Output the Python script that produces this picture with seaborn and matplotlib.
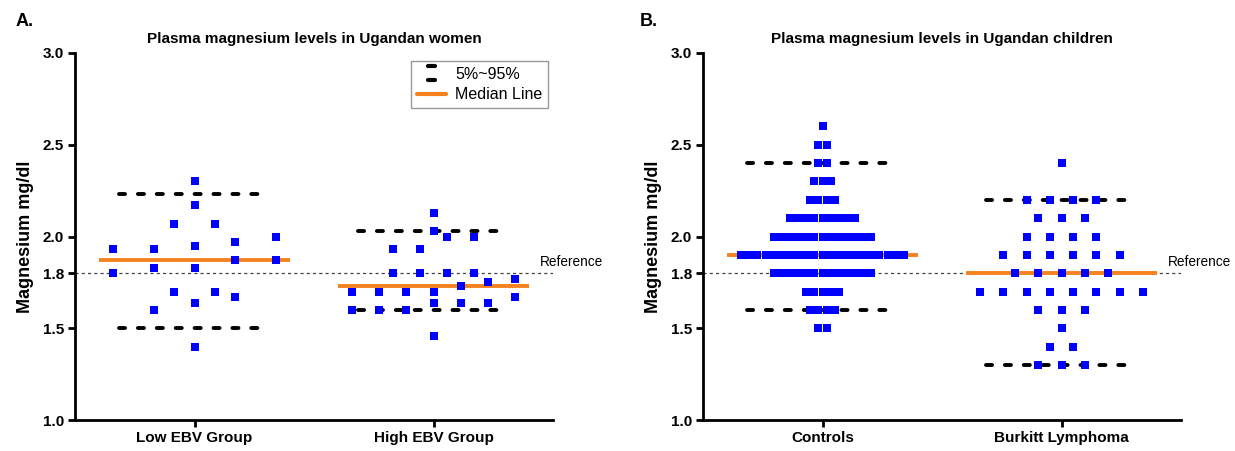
import numpy as np
import pandas as pd
import seaborn as sns
import matplotlib.pyplot as plt
from matplotlib.legend_handler import HandlerBase
from matplotlib.lines import Line2D

# Panel A: plasma Mg (mg/dl) in Ugandan women
groups_a = ["Low EBV Group", "High EBV Group"]
low_ebv = [1.40, 1.60, 1.64, 1.67, 1.70, 1.70, 1.80, 1.83, 1.83, 1.87, 1.87,
           1.93, 1.93, 1.95, 1.97, 2.00, 2.07, 2.07, 2.17, 2.30]
high_ebv = [1.46, 1.60, 1.60, 1.60, 1.64, 1.64, 1.64, 1.67, 1.70, 1.70, 1.70,
            1.70, 1.73, 1.75, 1.77, 1.80, 1.80, 1.80, 1.80, 1.93, 1.93, 2.00,
            2.00, 2.03, 2.13]
median_a = [1.87, 1.73]
p05_a = [1.50, 1.60]
p95_a = [2.23, 2.03]

# Panel B: plasma Mg in Ugandan children (values recorded to 0.1 mg/dl)
groups_b = ["Controls", "Burkitt Lymphoma"]
mg_levels = [1.3, 1.4, 1.5, 1.6, 1.7, 1.8, 1.9, 2.0, 2.1, 2.2, 2.3, 2.4, 2.5, 2.6]
controls_n = [0, 0, 2, 4, 5, 13, 21, 13, 9, 4, 3, 2, 2, 1]
burkitt_n = [3, 2, 1, 3, 8, 5, 6, 4, 3, 4, 0, 1, 0, 0]
median_b = [1.9, 1.8]
p05_b = [1.6, 1.3]
p95_b = [2.4, 2.2]

reference = 1.8
yticks = [1.0, 1.5, 1.8, 2.0, 2.5, 3.0]

BLUE = "#0000ff"
ORANGE = "#f5821f"


def column_layout(values, center, spread=0.68, tol=0.08):
    # prism-like column scatter: close values share a row, rows are centred
    v = np.sort(np.asarray(values, dtype=float))
    rows = []
    start = 0
    while start < len(v):
        end = start
        while end < len(v) and v[end] - v[start] < tol:
            end += 1
        rows.append((start, end))
        start = end
    widest = max(e - s for s, e in rows)
    step = spread / max(widest - 1, 1)
    xs = np.empty_like(v)
    for s, e in rows:
        n = e - s
        xs[s:e] = center + (np.arange(n) - (n - 1) / 2) * step
    return pd.DataFrame({"x": xs, "value": v})


class TwoDashHandler(HandlerBase):
    def create_artists(self, legend, orig_handle, xdescent, ydescent,
                       width, height, fontsize, trans):
        out = []
        for yy in (height * 1.15, height * -0.15):
            ln = Line2D([width * 0.38, width * 0.62], [yy, yy], color="black",
                        lw=3, solid_capstyle="round", transform=trans)
            out.append(ln)
        return out


def draw_panel(ax, groups, samples, medians, p05, p95, title):
    for i, vals in enumerate(samples):
        df = column_layout(vals, i)
        sns.scatterplot(data=df, x="x", y="value", marker="s", s=30,
                        color=BLUE, linewidth=0, ax=ax, zorder=4, legend=False)
    xs = np.arange(len(groups))
    for lvl in (p05, p95):
        lc = ax.hlines(lvl, xs - 0.315, xs + 0.315, colors="black", lw=2.8,
                       linestyles=(0, (1.56, 3.3)), zorder=3)
        lc.set_capstyle("round")
    ax.hlines(medians, xs - 0.40, xs + 0.40, colors=ORANGE, lw=2.8, zorder=3)
    ax.axhline(reference, color="#444444", lw=0.9, ls=(0, (2.5, 2.5)), zorder=1)
    ax.annotate("Reference", xy=(0.972, reference),
                xycoords=ax.get_yaxis_transform(), xytext=(0, 3),
                textcoords="offset points", ha="left", va="bottom",
                fontsize=9.8, annotation_clip=False)

    ax.set_xlim(-0.5, 1.5)
    ax.set_ylim(1.0, 3.0)
    ax.set_xticks(xs)
    ax.set_xticklabels(groups, fontsize=11, fontweight="bold")
    ax.set_yticks(yticks)
    ax.set_yticklabels([f"{t:.1f}" for t in yticks], fontsize=11,
                       fontweight="bold")
    ax.set_xlabel("")
    ax.set_ylabel("Magnesium mg/dl", fontsize=13, fontweight="bold",
                  labelpad=6)
    ax.set_title(title, fontsize=11, fontweight="bold", pad=7)
    sns.despine(ax=ax)
    for sp in ("left", "bottom"):
        ax.spines[sp].set_linewidth(2.0)
        ax.spines[sp].set_color("black")
    ax.tick_params(axis="both", length=5, width=2, pad=3, color="black",
                   labelcolor="black")


sns.set_style("ticks")
plt.rcParams["font.family"] = ["Liberation Sans", "DejaVu Sans"]
plt.rcParams["text.color"] = "black"
plt.rcParams["axes.labelcolor"] = "black"

fig = plt.figure(figsize=(12.35, 4.51), dpi=100)
W, H = 1235, 451
axA = fig.add_axes([75 / W, 1 - 420 / H, 478 / W, 367 / H])
axB = fig.add_axes([703 / W, 1 - 420 / H, 478 / W, 367 / H])

draw_panel(axA, groups_a, [low_ebv, high_ebv], median_a, p05_a, p95_a,
           "Plasma magnesium levels in Ugandan women")
draw_panel(axB, groups_b,
           [np.repeat(mg_levels, controls_n), np.repeat(mg_levels, burkitt_n)],
           median_b, p05_b, p95_b, "Plasma magnesium levels in Ugandan children")

h_pct = Line2D([], [], color="black")
h_med = Line2D([], [], color=ORANGE, lw=3)
leg = axA.legend([h_pct, h_med], ["5%~95%", "Median Line"],
                 handler_map={h_pct: TwoDashHandler()},
                 loc="upper right", bbox_to_anchor=(0.99, 0.978),
                 borderaxespad=0, fontsize=11.5, frameon=True, fancybox=False,
                 edgecolor="#999999", framealpha=1, handlelength=1.8,
                 labelspacing=0.35, borderpad=0.35, handletextpad=0.6)
leg.get_frame().set_linewidth(1.0)

fig.text(16 / W, 1 - 21 / H, "A.", fontsize=13, fontweight="bold", va="center")
fig.text(640 / W, 1 - 21 / H, "B.", fontsize=13, fontweight="bold", va="center")

fig.savefig("out.png", dpi=100)
